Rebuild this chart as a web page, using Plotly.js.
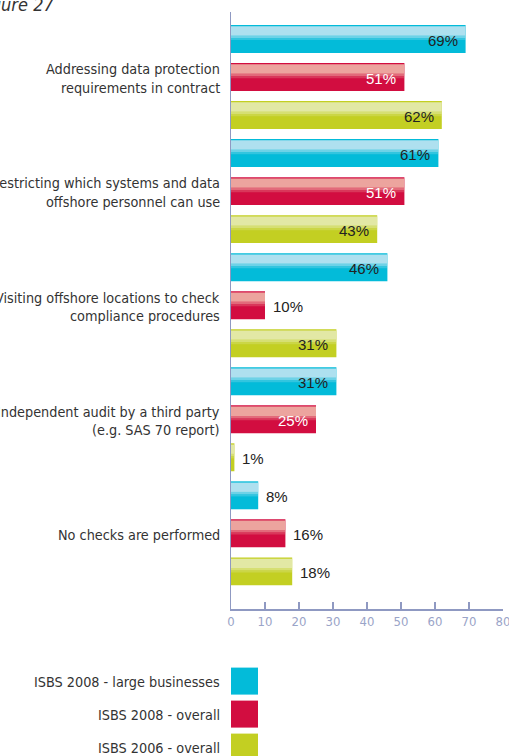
<!DOCTYPE html>
<html>
<head>
<meta charset="utf-8">
<script src="https://cdn.plot.ly/plotly-3.0.1.min.js"></script>
<style>html,body{margin:0;padding:0;background:#fff;overflow:hidden}#chart{width:509px;height:756px}</style>
</head>
<body>
<div id="chart"></div>
<script>
// ---- data ----
const categories = [
  "Addressing data protection<br>requirements in contract",
  "Restricting which systems and data<br>offshore personnel can use",
  "Visiting offshore locations to check<br>compliance procedures",
  "Independent audit by a third party<br>(e.g. SAS 70 report)",
  "No checks are performed"
];
const seriesNames = ["ISBS 2008 - large businesses", "ISBS 2008 - overall", "ISBS 2006 - overall"];
const large2008 = [69, 61, 46, 31, 8];
const overall2008 = [51, 51, 10, 25, 16];
const overall2006 = [62, 43, 31, 1, 18];
const xTicks = [0, 10, 20, 30, 40, 50, 60, 70, 80];
const figureTitle = "Figure 27";

// ---- styling ----
const series = [large2008, overall2008, overall2006];
const baseColors = ["#03bbd9", "#d20d40", "#c3cf22"];
const lightColors = ["#aee0ef", "#eca49e", "#e2e8a5"];
const textColors = ["#222222", "#ffffff", "#222222"];
const axisColor = "#8f99c2";
const W = 0.735; // bar thickness in category units
const condensed = "'DejaVu Sans Condensed', 'Liberation Sans Narrow', Arial, sans-serif";
const regular = "'Liberation Sans', Arial, sans-serif";

function hexToRgba(hex, a) {
  const n = parseInt(hex.slice(1), 16);
  return `rgba(${(n >> 16) & 255},${(n >> 8) & 255},${n & 255},${a})`;
}

const traces = [];
const annotations = [];
const bands = [[0.045, 0.38, 1], [0.38, 0.46, 0.62], [0.46, 0.54, 0.28]];

series.forEach((vals, s) => {
  const pos = vals.map((v, g) => g * 3 + s);
  traces.push({
    type: "bar", orientation: "h", x: vals, y: pos, width: W,
    marker: { color: baseColors[s], line: { width: 0 } },
    name: seriesNames[s], showlegend: false, hoverinfo: "x"
  });
  bands.forEach(b => {
    traces.push({
      type: "bar", orientation: "h", x: vals, y: pos,
      width: (b[1] - b[0]) * W, offset: -W / 2 + b[0] * W,
      marker: { color: hexToRgba(lightColors[s], b[2]), line: { width: 0 } },
      showlegend: false, hoverinfo: "skip"
    });
  });
  vals.forEach((v, g) => {
    const inside = v >= 20;
    annotations.push({
      xref: "x", yref: "y", x: v, y: g * 3 + s, text: v + "%",
      showarrow: false, xanchor: inside ? "right" : "left",
      xshift: inside ? -6 : 6, yshift: -1,
      font: { family: regular, size: 15, color: inside ? textColors[s] : "#222222" }
    });
  });
});

// category labels (one annotation per line for tight line spacing)
categories.forEach((c, g) => {
  const lines = c.split("<br>");
  const lh = 18.3;
  lines.forEach((ln, i) => {
    const off = (i - (lines.length - 1) / 2) * lh + 1.5;
    annotations.push({
      xref: "paper", yref: "y", x: 0, y: g * 3 + 1, text: ln,
      showarrow: false, xanchor: "right", yanchor: "middle", xshift: -9, yshift: -off,
      font: { family: condensed, size: 14.3, color: "#333333" }
    });
  });
});

// manual legend below the axis
const shapes = [];
seriesNames.forEach((nm, s) => {
  const cy = 72.1 + s * 33; // px below axis line
  shapes.push({
    type: "rect", xref: "x", yref: "paper",
    xsizemode: "pixel", xanchor: 0, x0: 0, x1: 27,
    ysizemode: "pixel", yanchor: 0, y0: -cy - 13.5, y1: -cy + 13.5,
    fillcolor: baseColors[s], line: { width: 0 }
  });
  annotations.push({
    xref: "paper", yref: "paper", x: 0, y: 0, text: nm, showarrow: false,
    xanchor: "right", yanchor: "middle", xshift: -9, yshift: -cy - 0.5,
    font: { family: condensed, size: 14.3, color: "#333333" }
  });
});

// partially visible figure title at top-left
annotations.push({
  xref: "paper", yref: "paper", x: (-25 - 231) / 272.3, y: 1, text: "<i>" + figureTitle + "</i>",
  showarrow: false, xanchor: "left", yanchor: "middle", yshift: 8,
  font: { family: condensed, size: 18, color: "#333333" }
});

const layout = {
  width: 509, height: 756,
  margin: { l: 231, r: 5.7, t: 12, b: 146.7, pad: 0 },
  paper_bgcolor: "#ffffff", plot_bgcolor: "#ffffff",
  barmode: "overlay", showlegend: false,
  xaxis: {
    range: [0, 80], tickvals: xTicks, ticktext: xTicks.map(String),
    ticks: "inside", ticklen: 7, tickwidth: 1.5, tickcolor: axisColor,
    showline: true, linecolor: axisColor, linewidth: 1.5,
    showgrid: false, zeroline: false, ticklabeloverflow: "allow",
    tickfont: { family: condensed, size: 13, color: "#9aa4c8" }
  },
  yaxis: {
    range: [14.99, -0.71], showticklabels: false, ticks: "",
    showline: true, linecolor: axisColor, linewidth: 1.5,
    showgrid: false, zeroline: false
  },
  annotations: annotations, shapes: shapes
};

Plotly.newPlot("chart", traces, layout, { displayModeBar: false, staticPlot: true });
</script>
</body>
</html>
